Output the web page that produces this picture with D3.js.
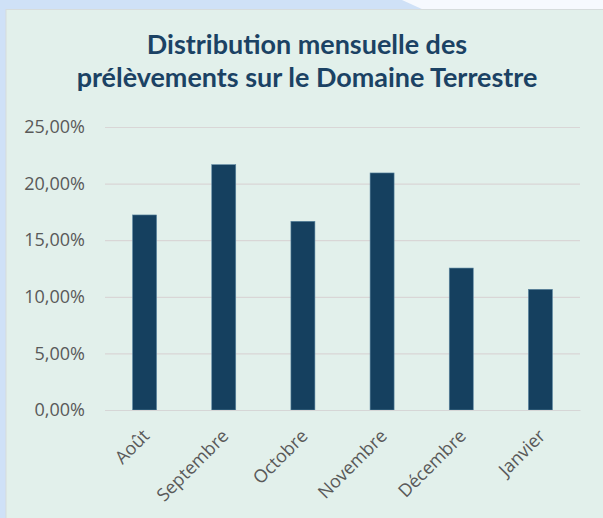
<!DOCTYPE html>
<html>
<head>
<meta charset="utf-8">
<script src="https://cdn.jsdelivr.net/npm/d3@7"></script>
<style>
  html, body { margin: 0; padding: 0; background: #f6f9fe; }
  svg { display: block; }
</style>
</head>
<body>
<div id="chart"></div>
<script>
var months = ["Août", "Septembre", "Octobre", "Novembre", "Décembre", "Janvier"];
var shares = [17.23, 21.67, 16.67, 20.94, 12.54, 10.66];
var yTicks = [0, 5, 10, 15, 20, 25];
var titleLines = ["Distribution mensuelle des", "prélèvements sur le Domaine Terrestre"];

function drawChart() {
    var w = 603;
    var h = 518;
    var left = 105, right = 580, top = 127, bottom = 410;

    var svg = d3.select("#chart")
        .append("svg")
        .attr("width", w)
        .attr("height", h);

    // page background: blue strip on the left and top, white on the top right
    svg.append("rect")
        .attr("x", 0).attr("y", 0)
        .attr("width", w).attr("height", h)
        .attr("fill", "#f6f9fe");
    svg.append("polygon")
        .attr("points", "0,0 402,0 424,10 0,10")
        .attr("fill", "#cfe1f7");
    svg.append("rect")
        .attr("x", 0).attr("y", 0)
        .attr("width", 6).attr("height", h)
        .attr("fill", "#cfe1f7");

    // chart panel
    svg.append("rect")
        .attr("x", 6).attr("y", 9.5)
        .attr("width", w).attr("height", h)
        .attr("fill", "#e2f0eb")
        .attr("stroke", "#d6dcdc")
        .attr("stroke-width", 1);

    var title = svg.append("text")
        .attr("text-anchor", "middle")
        .attr("font-family", "Lato, 'Open Sans', sans-serif")
        .attr("font-weight", "bold")
        .attr("font-size", "24px")
        .attr("fill", "#1b4264");
    title.selectAll("tspan")
        .data(titleLines)
        .enter()
        .append("tspan")
        .attr("x", 307)
        .attr("y", function(d, i) { return 54 + i * 33; })
        .text(function(d) { return d; });

    // stretch the title so the second line has the width seen in the picture
    var t2 = title.selectAll("tspan").nodes()[1];
    var len = t2.getComputedTextLength();
    title.attr("font-size", (24 * 461 / len) + "px");

    var x = d3.scaleBand()
        .domain(months)
        .range([left, right])
        .paddingInner(0.697)
        .paddingOuter(0.3485);

    var y = d3.scaleLinear()
        .domain([0, 25])
        .range([bottom, top]);

    var yAxis = d3.axisLeft(y)
        .tickValues(yTicks)
        .tickSize(-(right - left))
        .tickFormat(function(d) { return d3.format(".2f")(d).replace(".", ",") + "%"; });

    var gy = svg.append("g")
        .attr("transform", "translate(" + left + ",0)")
        .call(yAxis);
    gy.select(".domain").remove();
    gy.selectAll(".tick line")
        .attr("stroke", "#d9d6d6")
        .attr("stroke-width", 1.2);
    gy.selectAll(".tick text")
        .attr("x", -20)
        .attr("fill", "#595959")
        .attr("font-family", "'Open Sans', Lato, sans-serif")
        .attr("font-size", "18px");

    svg.selectAll("rect.bar")
        .data(shares)
        .enter()
        .append("rect")
        .attr("class", "bar")
        .attr("x", function(d, i) { return x(months[i]); })
        .attr("y", function(d) { return y(d); })
        .attr("width", x.bandwidth())
        .attr("height", function(d) { return y(0) - y(d); })
        .attr("fill", "#15405f")
        .attr("stroke", "#5a85a0")
        .attr("stroke-width", 0.6);

    var xAxis = d3.axisBottom(x).tickSize(0);
    var gx = svg.append("g")
        .attr("transform", "translate(0," + bottom + ")")
        .call(xAxis);
    gx.select(".domain")
        .attr("stroke", "#d6d6d6")
        .attr("stroke-width", 1.2);
    gx.selectAll(".tick text")
        .attr("fill", "#595959")
        .attr("font-family", "'Open Sans', Lato, sans-serif")
        .attr("font-size", "18px")
        .attr("text-anchor", "end")
        .attr("dy", 0)
        .attr("y", 0)
        .attr("transform", "translate(6,27) rotate(-45)");
}

createChart = drawChart;
createChart();
</script>
</body>
</html>
